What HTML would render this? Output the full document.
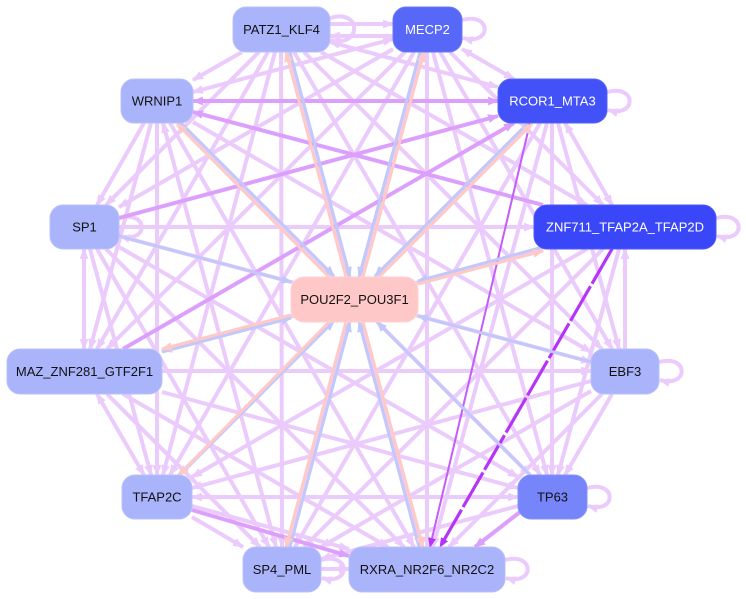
<!DOCTYPE html>
<html><head><meta charset="utf-8"><style>
html,body{margin:0;padding:0;background:#fff;}
svg{display:block;}
text{font-family:"Liberation Sans",Arial,sans-serif;font-size:13px;text-anchor:middle;dominant-baseline:central;}
</style></head><body>
<svg width="746" height="599" viewBox="0 0 746 599" xmlns="http://www.w3.org/2000/svg">
<defs>
<marker id="a" viewBox="0 0 10 8" refX="9" refY="4" markerWidth="11" markerHeight="9" markerUnits="userSpaceOnUse" orient="auto-start-reverse"><path d="M0,0 L10,4 L0,8 z" fill="#ebcbfc"/></marker>
<marker id="d" viewBox="0 0 10 8" refX="9" refY="4" markerWidth="11" markerHeight="9" markerUnits="userSpaceOnUse" orient="auto-start-reverse"><path d="M0,0 L10,4 L0,8 z" fill="#dc9ffb"/></marker>
<marker id="p" viewBox="0 0 10 8" refX="9" refY="4" markerWidth="11" markerHeight="9" markerUnits="userSpaceOnUse" orient="auto"><path d="M0,0 L10,4 L0,8 z" fill="#ffcac6"/></marker>
<marker id="b" viewBox="0 0 10 8" refX="9" refY="4" markerWidth="11" markerHeight="9" markerUnits="userSpaceOnUse" orient="auto"><path d="M0,0 L10,4 L0,8 z" fill="#c2c8fa"/></marker>
<marker id="v" viewBox="0 0 10 8" refX="9" refY="4" markerWidth="10" markerHeight="8" markerUnits="userSpaceOnUse" orient="auto"><path d="M0,0 L10,4 L0,8 z" fill="#b534f8"/></marker>
</defs>
<rect width="746" height="599" fill="#fff"/>

<g stroke="#ebcbfc" stroke-width="4" fill="none" marker-end="url(#a)">
<line x1="330" y1="24" x2="393" y2="24"/>
<line x1="393" y1="36" x2="330" y2="36"/>
<line x1="242" y1="52" x2="193" y2="80"/>
<line x1="330" y1="42" x2="498" y2="87" marker-start="url(#a)"/>
<line x1="259" y1="52" x2="106" y2="205"/>
<line x1="321" y1="52" x2="587" y2="205"/>
<line x1="268" y1="52" x2="97" y2="349"/>
<line x1="304" y1="52" x2="602" y2="349"/>
<line x1="275" y1="52" x2="163" y2="475"/>
<line x1="294" y1="52" x2="540" y2="475"/>
<line x1="281" y1="52" x2="282" y2="547"/>
<line x1="288" y1="52" x2="421" y2="547"/>
<line x1="393" y1="39" x2="193" y2="92" marker-start="url(#a)"/>
<line x1="462" y1="49" x2="514" y2="79" marker-start="url(#a)"/>
<line x1="393" y1="49" x2="119" y2="207"/>
<line x1="450" y1="52" x2="603" y2="205"/>
<line x1="405" y1="52" x2="107" y2="349"/>
<line x1="440" y1="52" x2="612" y2="349"/>
<line x1="414" y1="52" x2="170" y2="475"/>
<line x1="433" y1="52" x2="547" y2="475"/>
<line x1="421" y1="52" x2="288" y2="547"/>
<line x1="427" y1="52" x2="427" y2="547"/>
<line x1="144" y1="123" x2="97" y2="205"/>
<line x1="151" y1="123" x2="90" y2="349"/>
<line x1="193" y1="122" x2="591" y2="352"/>
<line x1="157" y1="123" x2="157" y2="475"/>
<line x1="179" y1="123" x2="530" y2="475"/>
<line x1="163" y1="123" x2="276" y2="547" marker-start="url(#a)"/>
<line x1="170" y1="123" x2="414" y2="547"/>
<line x1="565" y1="123" x2="612" y2="205" marker-start="url(#a)"/>
<line x1="558" y1="123" x2="619" y2="349"/>
<line x1="530" y1="123" x2="179" y2="475"/>
<line x1="552" y1="123" x2="552" y2="475"/>
<line x1="540" y1="123" x2="295" y2="547"/>
<line x1="547" y1="123" x2="433" y2="547"/>
<line x1="119" y1="227" x2="534" y2="227"/>
<line x1="84" y1="249" x2="84" y2="349" marker-start="url(#a)"/>
<line x1="119" y1="236" x2="591" y2="362"/>
<line x1="90" y1="249" x2="151" y2="475"/>
<line x1="119" y1="247" x2="518" y2="477"/>
<line x1="97" y1="249" x2="269" y2="547"/>
<line x1="106" y1="249" x2="404" y2="547"/>
<line x1="543" y1="249" x2="162" y2="351"/>
<line x1="625" y1="349" x2="625" y2="249"/>
<line x1="587" y1="249" x2="192" y2="477"/>
<line x1="619" y1="249" x2="558" y2="475"/>
<line x1="603" y1="249" x2="304" y2="547"/>
<line x1="162" y1="371" x2="591" y2="371"/>
<line x1="97" y1="394" x2="144" y2="475" marker-start="url(#a)"/>
<line x1="162" y1="392" x2="518" y2="488"/>
<line x1="107" y1="394" x2="260" y2="547"/>
<line x1="123" y1="394" x2="388" y2="547"/>
<line x1="591" y1="381" x2="192" y2="488"/>
<line x1="612" y1="394" x2="565" y2="475"/>
<line x1="591" y1="391" x2="321" y2="547"/>
<line x1="602" y1="394" x2="449" y2="547"/>
<line x1="192" y1="497" x2="518" y2="497" marker-start="url(#a)"/>
<line x1="192" y1="517" x2="243" y2="547"/>
<line x1="192" y1="506" x2="349" y2="549"/>
<line x1="518" y1="506" x2="321" y2="559"/>
<line x1="321" y1="569" x2="349" y2="569"/>
<path d="M330,18 C362,8 362,48 331,40"/>
<path d="M462,20 C492,12 492,46 463,38"/>
<path d="M607,92 C637,84 637,118 608,110"/>
<path d="M716,218 C746,210 746,244 717,236"/>
<path d="M659,362 C689,354 689,388 660,380"/>
<path d="M587,488 C617,480 617,514 588,506"/>
<path d="M505,560 C535,552 535,586 506,578"/>
<path d="M321,560 C351,552 351,586 322,578"/>
<path d="M119,218 C149,210 149,244 120,236"/>
</g>

<g stroke="#dc9ffb" stroke-width="4" fill="none" marker-end="url(#d)">
<line x1="498" y1="101" x2="193" y2="101" marker-start="url(#d)"/>
<line x1="543" y1="205" x2="193" y2="112"/>
<line x1="119" y1="218" x2="498" y2="116"/>
<line x1="123" y1="349" x2="514" y2="123"/>
<line x1="520" y1="512" x2="475" y2="547"/>
<line x1="192" y1="510" x2="349" y2="556"/>
</g>

<g fill="none">
<line x1="612" y1="249" x2="440" y2="547" stroke="#b534f8" stroke-width="3.2" stroke-dasharray="40,3" marker-end="url(#v)"/>
<line x1="530" y1="123" x2="430" y2="547" stroke="#c45cf9" stroke-width="2" marker-end="url(#v)"/>
</g>

<g fill="none" stroke-width="3">
<line x1="290" y1="52" x2="350" y2="277" stroke="#c2c8fa" marker-end="url(#b)"/>
<line x1="346" y1="277" x2="286" y2="52" stroke="#ffcac6" marker-end="url(#p)"/>
<line x1="420" y1="52" x2="359" y2="277" stroke="#c2c8fa" marker-end="url(#b)"/>
<line x1="363" y1="277" x2="424" y2="52" stroke="#ffcac6" marker-end="url(#p)"/>
<line x1="180" y1="122" x2="334" y2="276" stroke="#c2c8fa" marker-end="url(#b)"/>
<line x1="331" y1="279" x2="177" y2="124" stroke="#ffcac6" marker-end="url(#p)"/>
<line x1="529" y1="122" x2="375" y2="276" stroke="#c2c8fa" marker-end="url(#b)"/>
<line x1="378" y1="278" x2="532" y2="124" stroke="#ffcac6" marker-end="url(#p)"/>
<line x1="119" y1="236" x2="291" y2="282" stroke="#c2c8fa" marker-end="url(#b)"/>
<line x1="543" y1="247" x2="418" y2="281" stroke="#c2c8fa" marker-end="url(#b)"/>
<line x1="418" y1="284" x2="543" y2="251" stroke="#ffcac6" marker-end="url(#p)"/>
<line x1="162" y1="352" x2="291" y2="318" stroke="#c2c8fa" marker-end="url(#b)"/>
<line x1="291" y1="315" x2="162" y2="349" stroke="#ffcac6" marker-end="url(#p)"/>
<line x1="591" y1="362" x2="418" y2="316" stroke="#c2c8fa" marker-end="url(#b)"/>
<line x1="181" y1="474" x2="334" y2="321" stroke="#c2c8fa" marker-end="url(#b)"/>
<line x1="332" y1="319" x2="178" y2="476" stroke="#ffcac6" marker-end="url(#p)"/>
<line x1="530" y1="475" x2="377" y2="322" stroke="#c2c8fa" marker-end="url(#b)"/>
<line x1="290" y1="547" x2="350" y2="322" stroke="#c2c8fa" marker-end="url(#b)"/>
<line x1="346" y1="322" x2="286" y2="547" stroke="#ffcac6" marker-end="url(#p)"/>
<line x1="419" y1="547" x2="359" y2="322" stroke="#c2c8fa" marker-end="url(#b)"/>
<line x1="363" y1="322" x2="423" y2="547" stroke="#ffcac6" marker-end="url(#p)"/>
</g>

<g stroke-width="1">
<rect x="233" y="7" width="97" height="45" rx="13" fill="#aab4fb" stroke="#b8c0fb"/>
<rect x="393" y="7" width="69" height="45" rx="13" fill="#5767f8" stroke="#6a78f8"/>
<rect x="121" y="79" width="72" height="44" rx="13" fill="#aab4fb" stroke="#b8c0fb"/>
<rect x="498" y="79" width="109" height="44" rx="13" fill="#4352f8" stroke="#5664f8"/>
<rect x="50" y="205" width="69" height="44" rx="13" fill="#aab4fb" stroke="#b8c0fb"/>
<rect x="534" y="205" width="182" height="44" rx="13" fill="#3a47f9" stroke="#4d59f9"/>
<rect x="291" y="277" width="127" height="45" rx="13" fill="#ffc8c8" stroke="#ffd2d2"/>
<rect x="7" y="349" width="155" height="45" rx="13" fill="#aab4fb" stroke="#b8c0fb"/>
<rect x="591" y="349" width="68" height="45" rx="13" fill="#aab4fb" stroke="#b8c0fb"/>
<rect x="122" y="475" width="70" height="44" rx="13" fill="#aab4fb" stroke="#b8c0fb"/>
<rect x="518" y="475" width="69" height="44" rx="13" fill="#7686fa" stroke="#8592fa"/>
<rect x="243" y="547" width="78" height="45" rx="13" fill="#aab4fb" stroke="#b8c0fb"/>
<rect x="349" y="547" width="156" height="45" rx="13" fill="#aab4fb" stroke="#b8c0fb"/>
</g>

<g fill="#111">
<text x="281.5" y="29.5">PATZ1_KLF4</text>
<text x="427.5" y="29.5" fill="#fff">MECP2</text>
<text x="157" y="101">WRNIP1</text>
<text x="552.5" y="101" fill="#fff">RCOR1_MTA3</text>
<text x="84.5" y="227">SP1</text>
<text x="625" y="227" fill="#fff">ZNF711_TFAP2A_TFAP2D</text>
<text x="354.5" y="299.5">POU2F2_POU3F1</text>
<text x="84.5" y="371.5">MAZ_ZNF281_GTF2F1</text>
<text x="625" y="371.5">EBF3</text>
<text x="157" y="497">TFAP2C</text>
<text x="552.5" y="497">TP63</text>
<text x="282" y="569.5">SP4_PML</text>
<text x="427" y="569.5">RXRA_NR2F6_NR2C2</text>
</g>
</svg>
</body></html>
